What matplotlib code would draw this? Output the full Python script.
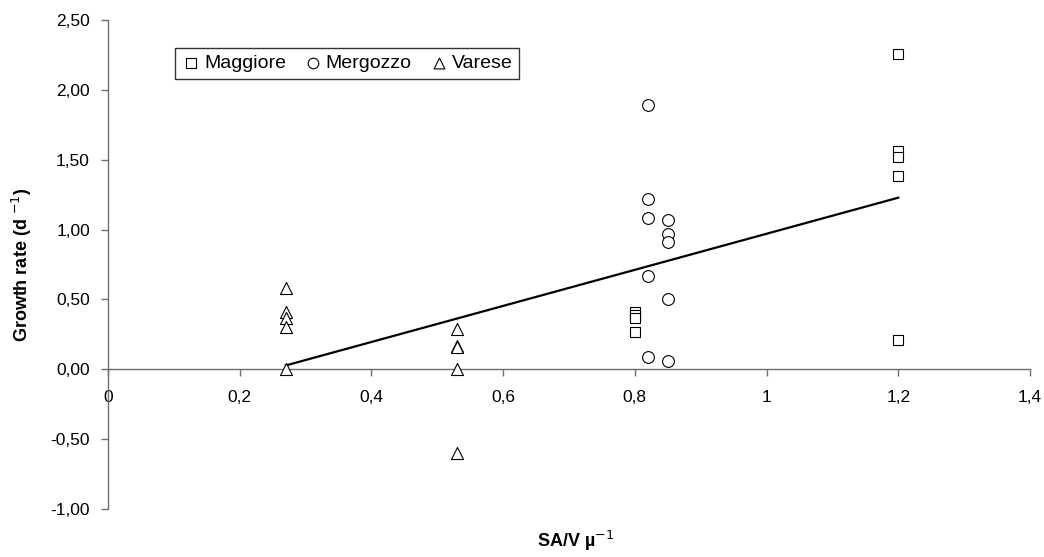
import numpy as np
import matplotlib
matplotlib.use("Agg")
import matplotlib.pyplot as plt
from matplotlib.ticker import FuncFormatter

plt.rcParams['font.family'] = ['Liberation Sans', 'DejaVu Sans']

# Surface area / volume ratio (µ^-1) and growth rate (d^-1) per lake
maggiore_x = [1.2, 1.2, 1.2, 1.2, 1.2, 0.8, 0.8, 0.8, 0.8]
maggiore_y = [2.26, 1.56, 1.52, 1.38, 0.21, 0.41, 0.39, 0.37, 0.27]

mergozzo_x = [0.82, 0.82, 0.82, 0.82, 0.82, 0.85, 0.85, 0.85, 0.85, 0.85]
mergozzo_y = [1.89, 1.22, 1.08, 0.67, 0.09, 1.07, 0.97, 0.91, 0.50, 0.06]

varese_x = [0.27, 0.27, 0.27, 0.27, 0.27, 0.53, 0.53, 0.53, 0.53, 0.53]
varese_y = [0.58, 0.41, 0.37, 0.30, 0.00, 0.29, 0.17, 0.16, 0.00, -0.60]

series_names = ["Maggiore", "Mergozzo", "Varese"]
x_ticks = [0, 0.2, 0.4, 0.6, 0.8, 1.0, 1.2, 1.4]
y_ticks = [-1.0, -0.5, 0.0, 0.5, 1.0, 1.5, 2.0, 2.5]

fig = plt.figure(figsize=(10.44, 5.57), dpi=100)
ax = fig.add_axes([0.1034, 0.0862, 0.8832, 0.8779])

mk = dict(facecolor='white', edgecolor='black', linewidths=0.8, zorder=3)
ax.scatter(maggiore_x, maggiore_y, marker='s', s=55, label=series_names[0], **mk)
ax.scatter(mergozzo_x, mergozzo_y, marker='o', s=72, label=series_names[1], **mk)
ax.scatter(varese_x, varese_y, marker='^', s=75, label=series_names[2], **mk)

# Linear trend over all lakes
all_x = np.array(maggiore_x + mergozzo_x + varese_x)
all_y = np.array(maggiore_y + mergozzo_y + varese_y)
slope, intercept = np.polyfit(all_x, all_y, 1)
xs = np.array([all_x.min(), all_x.max()])
ax.plot(xs, slope * xs + intercept, color='black', lw=1.6, zorder=2)

ax.set_xlim(0, 1.4)
ax.set_ylim(-1.0, 2.5)
ax.set_xticks(x_ticks)
ax.set_yticks(y_ticks)

def comma(v, nd):
    return f"{v:.{nd}f}".replace('.', ',')

ax.yaxis.set_major_formatter(FuncFormatter(lambda v, p: comma(v, 2)))
ax.xaxis.set_major_formatter(FuncFormatter(
    lambda v, p: f"{v:g}".replace('.', ',')))

for s in ['top', 'right']:
    ax.spines[s].set_visible(False)
ax.spines['bottom'].set_position(('data', 0))
for s in ['left', 'bottom']:
    ax.spines[s].set_color('#6e6e6e')
    ax.spines[s].set_linewidth(1.0)
ax.tick_params(axis='both', colors='#6e6e6e', labelcolor='black',
               labelsize=12.5, length=5, width=1.0, direction='out')
ax.tick_params(axis='x', pad=10)
ax.tick_params(axis='y', pad=8)

ax.set_ylabel("Growth rate (d $^{-1}$)", fontsize=13, fontweight='bold', labelpad=12)
fig.text(0.551, 0.029, "SA/V µ$^{-1}$", fontsize=13, fontweight='bold',
         ha='center', va='center')

leg = ax.legend(loc='upper left', bbox_to_anchor=(0.062, 0.963), ncol=3,
                frameon=True, fancybox=False, edgecolor='black',
                fontsize=14, handletextpad=0.15, columnspacing=0.9,
                borderpad=0.35, handlelength=1.0, scatterpoints=1,
                markerscale=0.9)
leg.get_frame().set_linewidth(1.0)

fig.savefig("out.png", dpi=100)
